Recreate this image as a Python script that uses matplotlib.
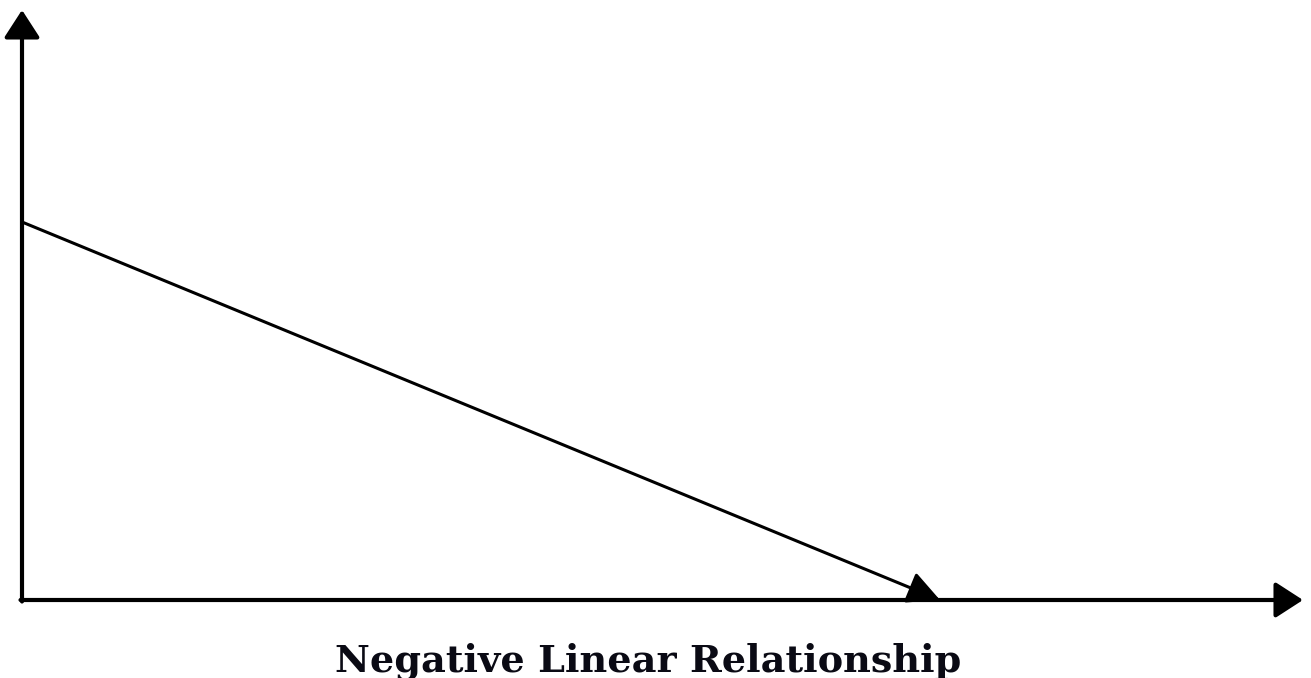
import matplotlib
matplotlib.use('Agg')
import matplotlib.pyplot as plt

# axis extents and the falling line (1 unit = 100 px)
x_axis_end = 12.81
y_axis_end = 5.90
line_x = [0.0, 9.18]
line_y = [3.78, 0.0]
title = 'Negative Linear Relationship'

fig = plt.figure(figsize=(13.11, 6.78), dpi=100)
ax = fig.add_axes([0, 0, 1, 1])
ax.set_xlim(-0.22, 12.89)
ax.set_ylim(-0.78, 6.00)
ax.axis('off')

axis_arrow = dict(arrowstyle='-|>,head_length=17,head_width=11', color='black',
                  lw=3.0, shrinkA=0, shrinkB=0, mutation_scale=1)
ax.annotate('', xy=(x_axis_end, 0), xytext=(-0.015, 0), arrowprops=axis_arrow)
ax.annotate('', xy=(0, y_axis_end), xytext=(0, -0.015), arrowprops=axis_arrow)

line_arrow = dict(arrowstyle='-|>,head_length=20,head_width=10', color='black',
                  lw=2.2, shrinkA=0, shrinkB=0, mutation_scale=1)
ax.annotate('', xy=(line_x[1], line_y[1]), xytext=(line_x[0], line_y[0]),
            arrowprops=line_arrow)

ax.text(6.26, -0.72, title, ha='center', va='baseline', fontsize=27.5,
        fontweight='bold', family='DejaVu Serif', color='#0a0a14')

fig.savefig('out.png', dpi=100)
